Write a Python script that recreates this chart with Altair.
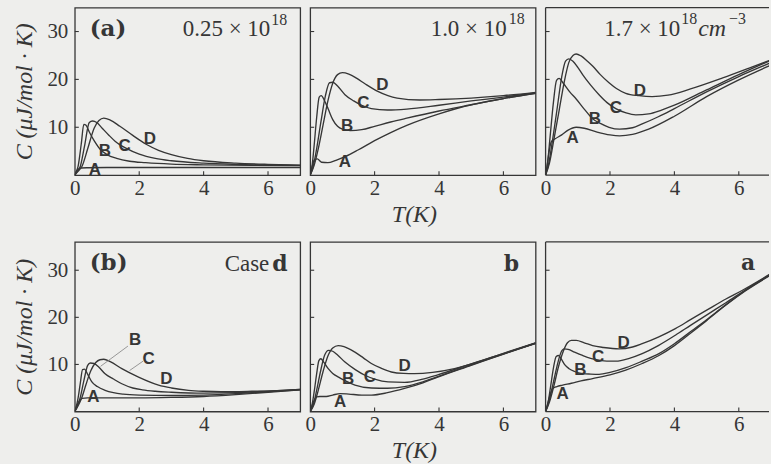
import altair as alt
import pandas as pd

# ---------------- (a) rows: carrier density series ----------------
# n = 0.25e18
a1_A_T = [0, 0.05, 0.12, 0.2, 0.4, 1, 2, 4, 7]
a1_A_C = [0, 0.8, 1.3, 1.5, 1.55, 1.6, 1.6, 1.6, 1.6]
a1_B_T = [0, 0.05, 0.1, 0.2, 0.28, 0.35, 0.45, 0.6, 0.8, 1.0, 1.3, 1.7, 2.2, 3, 4, 5.5, 7]
a1_B_C = [0, 0.8, 1.8, 6.5, 10.6, 10.4, 9.0, 7.2, 5.3, 4.3, 3.5, 2.9, 2.6, 2.3, 2.15, 2.05, 2.0]
a1_C_T = [0, 0.08, 0.17, 0.3, 0.45, 0.55, 0.68, 0.85, 1.05, 1.25, 1.6, 2.0, 2.5, 3.0, 4.0, 5.0, 7]
a1_C_C = [0, 0.8, 1.8, 6.0, 11.0, 11.3, 11.0, 9.8, 8.4, 7.1, 5.6, 4.4, 3.5, 3.0, 2.5, 2.25, 2.05]
a1_D_T = [0, 0.1, 0.22, 0.4, 0.6, 0.75, 0.9, 1.1, 1.4, 1.8, 2.2, 2.6, 3.0, 3.5, 4.0, 5.0, 6.0, 7]
a1_D_C = [0, 0.8, 1.8, 5.5, 9.8, 11.4, 11.9, 11.5, 10.2, 8.3, 6.5, 5.2, 4.3, 3.5, 3.0, 2.5, 2.25, 2.1]

# n = 1.0e18
a2_A_T = [0, 0.06, 0.13, 0.22, 0.35, 0.55, 0.8, 1.1, 1.5, 2.0, 2.5, 3.0, 4.0, 5.0, 6.0, 7.0]
a2_A_C = [0, 1.8, 3.2, 3.4, 2.7, 2.6, 3.1, 3.9, 5.3, 7.2, 8.9, 10.4, 12.8, 14.7, 16.0, 17.1]
a2_B_T = [0, 0.06, 0.12, 0.2, 0.28, 0.34, 0.45, 0.56, 0.7, 0.85, 1.0, 1.25, 1.6, 2.0, 2.5, 3.0, 4.0, 5.0, 6.0, 7.0]
a2_B_C = [0, 2, 6, 12, 16.3, 16.6, 15.5, 13.8, 11.6, 10.2, 9.6, 9.3, 9.5, 10.2, 11.1, 11.9, 13.4, 14.7, 16.0, 17.1]
a2_C_T = [0, 0.1, 0.2, 0.33, 0.47, 0.6, 0.7, 0.85, 1.08, 1.35, 1.6, 1.9, 2.4, 3.0, 4.0, 5.0, 6.0, 7.0]
a2_C_C = [0, 2, 5.5, 11, 16.5, 19.3, 19.4, 18.6, 16.8, 15.5, 14.6, 13.9, 13.6, 13.8, 14.6, 15.5, 16.3, 17.2]
a2_D_T = [0, 0.12, 0.25, 0.4, 0.55, 0.7, 0.85, 1.0, 1.2, 1.45, 1.7, 2.1, 2.7, 3.4, 4.0, 5.0, 6.0, 7.0]
a2_D_C = [0, 2, 5.5, 10.5, 15.5, 19.2, 21.0, 21.4, 21.1, 20.2, 19.1, 17.5, 16.1, 15.7, 15.8, 16.1, 16.6, 17.3]

# n = 1.7e18
a3_A_T = [0, 0.05, 0.1, 0.18, 0.3, 0.5, 0.7, 0.95, 1.2, 1.6, 2.0, 2.3, 2.7, 3.2, 4.0, 5.0, 6.0, 7.0]
a3_A_C = [0, 2.0, 4.5, 7.0, 7.6, 8.4, 9.4, 10.0, 9.8, 9.0, 8.4, 8.2, 8.5, 9.6, 12.3, 16.4, 19.9, 23.0]
a3_B_T = [0, 0.06, 0.14, 0.24, 0.34, 0.42, 0.55, 0.75, 0.95, 1.2, 1.46, 1.7, 1.97, 2.3, 2.7, 3.0, 3.5, 4.0, 5.0, 6.0, 7.0]
a3_B_C = [0, 2.5, 8, 15, 19.8, 20.2, 19.2, 17.4, 15.9, 13.8, 11.8, 10.8, 10.0, 9.6, 9.9, 10.7, 12.2, 13.9, 17.4, 20.6, 23.5]
a3_C_T = [0, 0.1, 0.22, 0.35, 0.5, 0.62, 0.72, 0.85, 1.0, 1.15, 1.4, 1.66, 1.9, 2.18, 2.5, 2.8, 3.2, 3.6, 4.0, 5.0, 6.0, 7.0]
a3_C_C = [0, 2.5, 7.5, 13.5, 20.5, 23.8, 24.3, 23.8, 22.5, 21.0, 18.8, 16.8, 15.2, 13.9, 13.0, 12.6, 12.8, 13.6, 14.6, 17.8, 21.0, 24.0]
a3_D_T = [0, 0.12, 0.26, 0.42, 0.58, 0.72, 0.85, 0.95, 1.1, 1.3, 1.46, 1.7, 1.97, 2.2, 2.49, 2.9, 3.31, 3.8, 4.5, 5.5, 6.3, 7.0]
a3_D_C = [0, 2.5, 7.5, 13.5, 19.5, 23.5, 25.0, 25.3, 24.9, 23.8, 22.8, 21.0, 19.3, 18.1, 17.1, 16.6, 16.4, 16.7, 18.0, 20.3, 22.3, 24.1]

# ---------------- (b) rows: cases d, b, a ----------------
# case d
b1_A_T = [0, 0.05, 0.12, 0.22, 0.4, 1.0, 2.0, 3.0, 4.0, 5.0, 6.0, 7.0]
b1_A_C = [0, 1.0, 2.0, 2.8, 2.9, 2.9, 2.9, 3.0, 3.2, 3.6, 4.1, 4.6]
b1_B_T = [0, 0.05, 0.1, 0.17, 0.24, 0.3, 0.4, 0.53, 0.7, 0.94, 1.2, 1.5, 2.0, 3.0, 4.0, 5.0, 6.0, 7.0]
b1_B_C = [0, 1.2, 2.8, 6.0, 8.9, 9.0, 7.9, 6.3, 5.3, 4.5, 4.0, 3.7, 3.5, 3.4, 3.5, 3.8, 4.2, 4.6]
b1_C_T = [0, 0.08, 0.17, 0.28, 0.4, 0.48, 0.6, 0.75, 0.94, 1.2, 1.46, 1.8, 2.1, 2.5, 3.0, 4.0, 5.0, 6.0, 7.0]
b1_C_C = [0, 1.2, 3.0, 6.5, 9.8, 10.3, 10.2, 9.4, 8.0, 6.9, 5.9, 5.0, 4.6, 4.3, 4.1, 3.9, 4.0, 4.3, 4.7]
b1_D_T = [0, 0.1, 0.22, 0.35, 0.5, 0.65, 0.78, 0.9, 1.1, 1.46, 1.98, 2.6, 3.0, 3.53, 4.0, 4.55, 5.5, 6.1, 7.0]
b1_D_C = [0, 1.2, 3.0, 5.8, 8.7, 10.4, 11.0, 11.1, 10.6, 9.1, 7.3, 5.6, 5.0, 4.5, 4.3, 4.2, 4.3, 4.4, 4.7]

# case b
b2_A_T = [0, 0.06, 0.13, 0.2, 0.3, 0.5, 0.7, 0.93, 1.2, 1.6, 1.9, 2.4, 2.93, 3.5, 3.96, 5.0, 6.0, 7.0]
b2_A_C = [0, 1.3, 2.5, 3.1, 3.2, 3.2, 3.5, 3.8, 3.7, 3.5, 3.5, 4.0, 4.9, 6.1, 7.3, 9.8, 12.2, 14.5]
b2_B_T = [0, 0.06, 0.13, 0.2, 0.27, 0.33, 0.42, 0.56, 0.7, 0.88, 1.1, 1.39, 1.9, 2.4, 2.93, 3.5, 3.96, 5.0, 6.0, 7.0]
b2_B_C = [0, 1.5, 4.5, 8.0, 10.8, 11.2, 10.5, 9.1, 8.1, 7.3, 6.5, 5.6, 5.0, 4.95, 5.3, 6.3, 7.4, 9.9, 12.2, 14.5]
b2_C_T = [0, 0.1, 0.2, 0.32, 0.45, 0.57, 0.7, 0.85, 1.08, 1.4, 1.7, 2.0, 2.42, 2.93, 3.5, 3.96, 5.0, 6.0, 7.0]
b2_C_C = [0, 1.5, 4.5, 8.5, 12.0, 13.0, 12.8, 12.0, 10.5, 8.9, 7.7, 6.9, 6.3, 6.2, 6.9, 7.8, 10.1, 12.3, 14.5]
b2_D_T = [0, 0.12, 0.25, 0.4, 0.55, 0.7, 0.87, 1.05, 1.39, 1.65, 1.9, 2.2, 2.52, 2.9, 3.24, 3.8, 4.48, 5.5, 6.2, 7.0]
b2_D_C = [0, 1.5, 4.5, 8.5, 11.8, 13.5, 14.0, 13.8, 12.6, 11.4, 10.2, 9.2, 8.4, 8.1, 8.05, 8.3, 9.1, 11.2, 12.8, 14.6]

# case a
b3_A_T = [0, 0.06, 0.13, 0.22, 0.35, 0.53, 0.8, 1.1, 1.46, 2.0, 2.49, 3.0, 3.52, 4.0, 4.55, 5.0, 5.58, 6.2, 7.0]
b3_A_C = [0, 1.5, 3.3, 4.9, 5.3, 5.6, 6.0, 6.5, 7.0, 7.8, 8.8, 10.2, 11.9, 14.0, 16.9, 19.3, 22.5, 25.6, 29.0]
b3_B_T = [0, 0.08, 0.16, 0.25, 0.33, 0.4, 0.5, 0.6, 0.73, 0.9, 1.15, 1.4, 1.66, 2.0, 2.5, 3.0, 3.52, 4.0, 4.55, 5.0, 5.58, 6.2, 7.0]
b3_B_C = [0, 2.0, 5.5, 9.5, 11.7, 11.9, 11.0, 9.9, 9.1, 8.5, 8.05, 7.95, 7.9, 8.3, 9.3, 10.7, 12.3, 14.4, 17.2, 19.5, 22.6, 25.7, 29.1]
b3_C_T = [0, 0.1, 0.22, 0.35, 0.48, 0.58, 0.7, 0.9, 1.15, 1.4, 1.66, 1.9, 2.18, 2.6, 3.0, 3.5, 4.03, 4.5, 5.07, 5.6, 6.2, 7.0]
b3_C_C = [0, 2.0, 5.5, 9.5, 12.6, 13.3, 13.2, 12.6, 11.9, 11.3, 10.9, 10.7, 10.7, 11.3, 12.3, 14.0, 16.2, 18.3, 20.8, 23.1, 25.8, 29.2]
b3_D_T = [0, 0.12, 0.26, 0.4, 0.55, 0.68, 0.8, 0.95, 1.2, 1.46, 1.8, 2.28, 2.7, 3.0, 3.5, 4.03, 4.5, 5.07, 5.6, 6.1, 7.0]
b3_D_C = [0, 2.0, 5.5, 9.5, 12.8, 14.6, 15.1, 15.1, 14.6, 14.0, 13.6, 13.3, 13.7, 14.4, 15.8, 17.6, 19.5, 21.8, 23.9, 25.7, 29.3]

# curve letter positions (T, C) per panel, order A, B, C, D
curve_names = ["A", "B", "C", "D"]
a1_lab_T = [0.62, 0.93, 1.55, 2.33]
a1_lab_C = [1.05, 5.1, 6.1, 7.5]
a2_lab_T = [1.08, 1.15, 1.65, 2.24]
a2_lab_C = [2.8, 10.3, 15.0, 18.75]
a3_lab_T = [0.84, 1.53, 2.18, 2.93]
a3_lab_C = [7.85, 11.8, 14.1, 17.6]
b1_lab_T = [0.58, 1.87, 2.29, 2.84]
b1_lab_C = [3.1, 15.1, 11.2, 7.0]
b2_lab_T = [0.93, 1.18, 1.85, 2.93]
b2_lab_C = [2.05, 6.85, 7.35, 9.7]
b3_lab_T = [0.53, 1.08, 1.63, 2.42]
b3_lab_C = [3.8, 8.75, 11.6, 14.6]

# thin leader lines in case d (from letter towards its curve)
b1_lead_T = [1.65, 2.12]
b1_lead_C = [13.9, 10.7]
b1_lead_T2 = [0.8, 1.7]
b1_lead_C2 = [9.6, 8.7]

x_label_values = [0, 2, 4, 6]
x_tick_values = [2, 4, 6]
y_tick_values = [10, 20, 30]

SERIF = "Liberation Serif"
SERIF_BOLD = "DejaVu Serif"
SANS = "Liberation Sans"
INK = "#363636"
BG = "#eeeeec"

W = 226          # full panel width (0..7 K)
W_LAST = 224     # last column runs off the right edge
X_PER_K = W / 7.0
H_TOP = 168
H_BOT = 170


def curves_frame(prefix):
    g = globals()
    rows = []
    for name in curve_names:
        for t, c in zip(g[f"{prefix}_{name}_T"], g[f"{prefix}_{name}_C"]):
            rows.append({"T": t, "C": c, "curve": name})
    return pd.DataFrame(rows)


def letters_frame(prefix):
    g = globals()
    return pd.DataFrame({"T": g[f"{prefix}_lab_T"], "C": g[f"{prefix}_lab_C"], "name": curve_names})


def note(text, px, py, size=23, weight="normal", style="normal", align="left", font=SERIF):
    return alt.Chart(pd.DataFrame({"label": [text]})).mark_text(
        align=align, baseline="alphabetic", font=font, fontSize=size,
        fontWeight=weight, fontStyle=style, color=INK
    ).encode(x=alt.value(px), y=alt.value(py), text="label:N")


def panel(prefix, ymax, height, width, left_axis, x_title, notes, leaders=None, open_right=False):
    xmax = width / X_PER_K
    x_scale = alt.Scale(domain=[0, xmax], nice=False, zero=False)
    y_scale = alt.Scale(domain=[0, ymax], nice=False)
    x_axis_kw = dict(
        values=x_label_values, ticks=False, domain=False, grid=False, labelFlush=False,
        labelPadding=2, labelFontSize=21, labelFont=SERIF, labelColor=INK, labelAngle=0,
        title=x_title,
    )
    if x_title:
        x_axis_kw.update(titleFont=SERIF, titleFontSize=24, titleFontStyle="italic",
                         titleFontWeight="normal", titleColor=INK, titlePadding=4, titleX=104)
    x_enc = alt.X("T:Q", scale=x_scale, axis=alt.Axis(**x_axis_kw))
    if left_axis:
        y_axis = alt.Axis(
            values=y_tick_values, ticks=False, domain=False, grid=False,
            labelPadding=7, labelFontSize=21, labelFont=SERIF, labelColor=INK,
            title="C (μJ/mol · K)", titleFont=SERIF, titleFontSize=24, titleFontStyle="italic",
            titleFontWeight="normal", titleColor=INK, titlePadding=10,
        )
        y_enc = alt.Y("C:Q", scale=y_scale, axis=y_axis)
    else:
        y_enc = alt.Y("C:Q", scale=y_scale, axis=None)

    lines = alt.Chart(curves_frame(prefix)).mark_line(
        interpolate="monotone", color=INK, strokeWidth=1.35, clip=True
    ).encode(x=x_enc, y=y_enc, detail="curve:N")

    letters = alt.Chart(letters_frame(prefix)).mark_text(
        font=SANS, fontWeight="bold", fontSize=17, color=INK, baseline="middle"
    ).encode(x=x_enc, y=y_enc, text="name:N")

    xt = alt.Chart(pd.DataFrame({"T": x_tick_values})).mark_rule(color=INK, strokeWidth=1.1).encode(
        x=x_enc, y=alt.value(height), y2=alt.value(height - 4))
    yt = alt.Chart(pd.DataFrame({"C": y_tick_values})).mark_rule(color=INK, strokeWidth=1.1).encode(
        y=y_enc, x=alt.value(0), x2=alt.value(4))

    layers = [xt, yt, lines, letters]
    if leaders is not None:
        layers.append(alt.Chart(leaders).mark_rule(color="#808080", strokeWidth=0.8).encode(
            x=x_enc, y=y_enc, x2="T2:Q", y2="C2:Q"))
    if open_right:
        fr = dict(color=INK, strokeWidth=1.3)
        layers.append(alt.Chart().mark_rule(**fr).encode(
            x=alt.value(0), x2=alt.value(width), y=alt.value(0)))
        layers.append(alt.Chart().mark_rule(**fr).encode(
            x=alt.value(0), x2=alt.value(width), y=alt.value(height)))
        layers.append(alt.Chart().mark_rule(**fr).encode(
            x=alt.value(0), y=alt.value(0), y2=alt.value(height)))
    layers.extend(notes)

    ch = alt.layer(*layers).properties(width=width, height=height)
    if open_right:
        ch = ch.properties(view=alt.ViewBackground(stroke="transparent"))
    return ch


p1 = panel("a1", 35, H_TOP, W, True, None, [
    note("(a)", 15, 28, size=23, weight="bold", font=SERIF_BOLD),
    note("0.25 × 10", 196, 28, align="right"),
    note("18", 197, 17, size=16),
])
p2 = panel("a2", 35, H_TOP, W, False, "T(K)", [
    note("1.0 × 10", 197, 28.5, align="right"),
    note("18", 199, 16.5, size=16),
])
p3 = panel("a3", 35, H_TOP, W_LAST, False, None, [
    note("1.7 × 10", 135, 28.5, align="right"),
    note("18", 136, 16.5, size=16),
    note("cm", 153, 28.5, size=24, style="italic"),
    note("−3", 184, 16.5, size=16),
], open_right=True)

lead_df = pd.DataFrame({"T": b1_lead_T, "C": b1_lead_C, "T2": b1_lead_T2, "C2": b1_lead_C2})
p4 = panel("b1", 36, H_BOT, W, True, None, [
    note("(b)", 15, 28, size=23, weight="bold", font=SERIF_BOLD),
    note("Case", 195, 29, align="right"),
    note("d", 198, 29, size=22, weight="bold", font=SERIF_BOLD),
], leaders=lead_df)
p5 = panel("b2", 36, H_BOT, W, False, "T(K)", [
    note("b", 194, 29.5, size=22, weight="bold", font=SERIF_BOLD),
])
p6 = panel("b3", 36, H_BOT, W_LAST, False, None, [
    note("a", 196, 28, size=22, weight="bold", font=SERIF_BOLD),
], open_right=True)

chart = alt.concat(
    p1, p2, p3, p4, p5, p6, columns=3,
    spacing={"row": 67, "column": 10}, bounds="flush",
).properties(
    padding={"left": 12, "top": 5, "right": 0, "bottom": 0},
    background=BG,
).configure_view(stroke=INK, strokeWidth=1.3)

chart.save("out.html", embed_options={"renderer": "svg", "actions": False})
